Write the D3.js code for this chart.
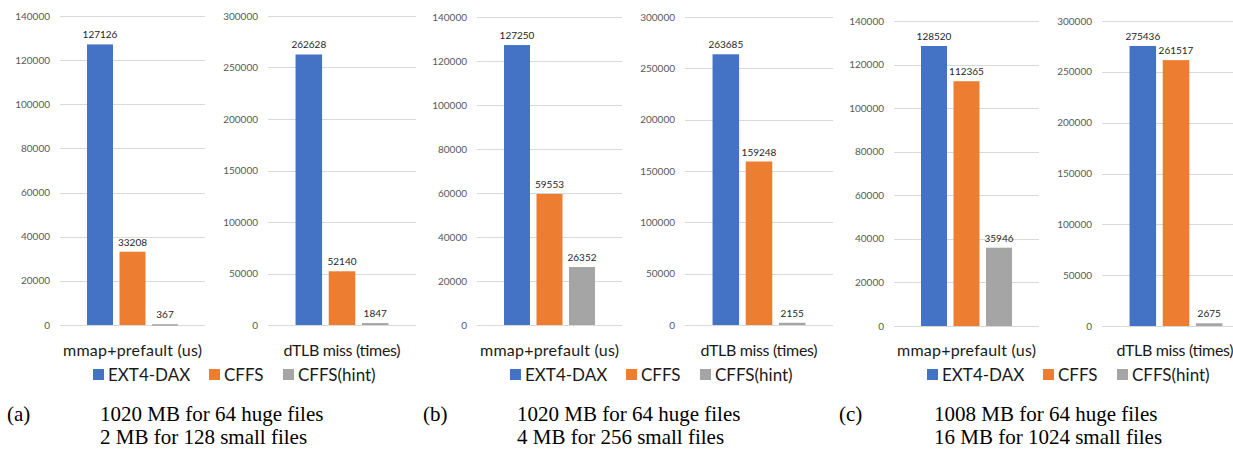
<!DOCTYPE html>
<html>
<head>
<meta charset="utf-8">
<script src="https://cdn.jsdelivr.net/npm/d3@7.9.0/dist/d3.min.js"></script>
<style>
  html, body { margin: 0; padding: 0; background: #fff; }
  svg { display: block; }
  .tick-label { font-family: Lato, 'Open Sans', sans-serif; font-size: 10px; fill: #595959; }
  .value-label { font-family: Lato, 'Open Sans', sans-serif; font-size: 10px; fill: #262626; }
  .cat-label { font-family: Lato, 'Open Sans', sans-serif; font-size: 16px; fill: #1a1a1a; }
  .legend-label { font-family: Lato, 'Open Sans', sans-serif; font-size: 17px; fill: #1a1a1a; }
  .caption { font-family: 'Liberation Serif', 'DejaVu Serif', serif; font-size: 21px; fill: #000; }
</style>
</head>
<body>
<svg id="chart" width="1233" height="449"></svg>
<script>
// series shared by every panel
const series = ['EXT4-DAX', 'CFFS', 'CFFS(hint)'];
const seriesColors = ['#4472C4', '#ED7D31', '#A5A5A5'];

// metric names (one sub chart per metric)
const metrics = ['mmap+prefault (us)', 'dTLB miss (times)'];
const metricMax = [140000, 300000];
const mmapTicks = [0, 20000, 40000, 60000, 80000, 100000, 120000, 140000];
const dtlbTicks = [0, 50000, 100000, 150000, 200000, 250000, 300000];

// values per panel (a, b, c), in series order
const mmapValues = [
  [127126, 33208, 367],
  [127250, 59553, 26352],
  [128520, 112365, 35946],
];
const dtlbValues = [
  [262628, 52140, 1847],
  [263685, 159248, 2155],
  [275436, 261517, 2675],
];

const panelTags = ['(a)', '(b)', '(c)'];
const captionLines = [
  ['1020 MB for 64 huge files', '2 MB for 128 small files'],
  ['1020 MB for 64 huge files', '4 MB for 256 small files'],
  ['1008 MB for 64 huge files', '16 MB for 1024 small files'],
];

const svg = d3.select('#chart');

// layout
const panelX = [0, 417, 834];
const plotTop = [16, 17, 21];
const plotBottom = [325, 325, 326];
const subX = [[60, 205], [268, 416]];
const labelWidths = [139, 117];

function drawSubChart(g, x0, x1, top, bottom, values, max, ticks, label, labelWidth) {
  let y = d3.scaleLinear().domain([0, max]).range([bottom, top]);

  // gridlines
  g.selectAll('line.grid')
    .data(ticks)
    .join('line')
    .attr('class', 'grid')
    .attr('x1', x0)
    .attr('x2', x1)
    .attr('y1', (d) => Math.round(y(d)) + 0.5)
    .attr('y2', (d) => Math.round(y(d)) + 0.5)
    .attr('stroke', '#D9D9D9')
    .attr('stroke-width', 1.2);

  g.selectAll('text.tick-label')
    .data(ticks)
    .join('text')
    .attr('class', 'tick-label')
    .attr('x', x0 - 10)
    .attr('y', (d) => y(d))
    .attr('dy', '0.35em')
    .attr('text-anchor', 'end')
    .text((d) => d);

  let x = d3.scaleBand()
    .domain(series)
    .range([x0, x1])
    .paddingInner(0.2)
    .paddingOuter(0.83);

  g.selectAll('rect.bar')
    .data(values)
    .join('rect')
    .attr('class', 'bar')
    .attr('x', (d, i) => x(series[i]))
    .attr('width', x.bandwidth())
    .attr('y', (d) => y(d))
    .attr('height', (d) => Math.max(1.5, bottom - y(d)))
    .attr('fill', (d, i) => seriesColors[i]);

  g.selectAll('text.value-label')
    .data(values)
    .join('text')
    .attr('class', 'value-label')
    .attr('x', (d, i) => x(series[i]) + x.bandwidth() / 2)
    .attr('y', (d) => y(d) - 6)
    .attr('text-anchor', 'middle')
    .text((d) => d);

  g.append('text')
    .attr('class', 'cat-label')
    .attr('x', (x0 + x1) / 2 - (x1 > 1200 ? 1 : 0))
    .attr('y', 356)
    .attr('text-anchor', 'middle')
    .attr('textLength', labelWidth)
    .attr('lengthAdjust', 'spacing')
    .text(label);
}

function drawLegend(g, startX) {
  // swatch offsets measured from the first swatch
  let offsets = [0, 116, 190];
  series.forEach((s, i) => {
    g.append('rect')
      .attr('x', startX + offsets[i])
      .attr('y', 369)
      .attr('width', 11)
      .attr('height', 11)
      .attr('fill', seriesColors[i]);
    g.append('text')
      .attr('class', 'legend-label')
      .attr('x', startX + offsets[i] + 15)
      .attr('y', 381)
      .text(s);
  });
}

panelTags.forEach((tag, p) => {
  let g = svg.append('g');
  let px = panelX[p];

  drawSubChart(g.append('g'), px + subX[0][0], px + subX[0][1], plotTop[p], plotBottom[p],
    mmapValues[p], metricMax[0], mmapTicks, metrics[0], labelWidths[0]);
  drawSubChart(g.append('g'), px + subX[1][0], px + subX[1][1], plotTop[p], plotBottom[p],
    dtlbValues[p], metricMax[1], dtlbTicks, metrics[1], labelWidths[1]);

  drawLegend(g, px + 93);

  g.append('text')
    .attr('class', 'caption')
    .attr('x', px + 7 - p * 1)
    .attr('y', 421)
    .text(tag);

  captionLines[p].forEach((line, i) => {
    g.append('text')
      .attr('class', 'caption')
      .attr('x', px + 100)
      .attr('y', 421 + i * 23)
      .text(line);
  });
});
</script>
</body>
</html>
